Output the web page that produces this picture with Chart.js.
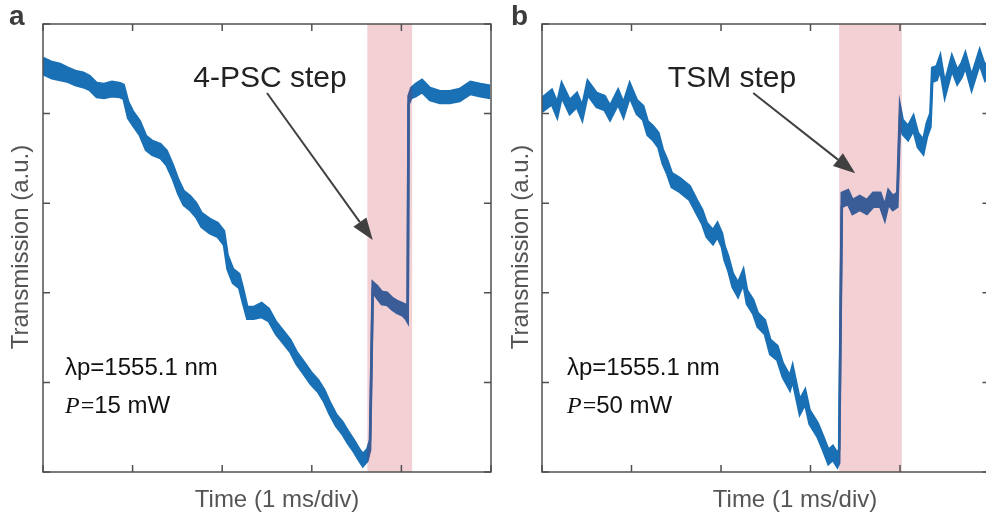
<!DOCTYPE html>
<html><head><meta charset="utf-8">
<script src="https://cdn.jsdelivr.net/npm/chart.js@4"></script>
<style>
html,body{margin:0;padding:0;width:986px;height:519px;overflow:hidden;background:#fff;}
.wrap{position:absolute;top:0;height:519px;}
#wa{left:0;width:495px;}
#wb{left:495px;width:500px;}
</style></head><body>
<div class="wrap" id="wa"><canvas id="ca" width="495" height="519"></canvas></div>
<div class="wrap" id="wb"><canvas id="cb" width="500" height="519"></canvas></div>
<script>
// ---------- data (time in ms, transmission in a.u. 0-100) ----------
const timeA = [0,0.10,0.19,0.28,0.36,0.45,0.52,0.60,0.68,0.77,0.86,0.90,0.95,1.00,1.08,1.15,1.22,1.31,1.38,1.45,1.51,1.57,1.64,1.71,1.77,1.86,1.95,2.02,2.06,2.12,2.19,2.23,2.28,2.35,2.44,2.52,2.60,2.68,2.76,2.83,2.91,2.99,3.07,3.14,3.20,3.27,3.34,3.40,3.47,3.53,3.57,3.62,3.65,3.68,3.73,3.78,3.84,3.90,3.95,4.01,4.05,4.07,4.08,4.11,4.16,4.23,4.32,4.43,4.54,4.65,4.77,4.88,4.99];
const upperA = [92.4,91.5,91.1,90.2,89.5,89.1,88.4,86.8,86.6,87.1,86.8,86.4,82.6,80.6,78.3,75.0,73.9,73.2,71.7,68.5,65.2,62.7,61.6,60.0,57.8,56.5,55.6,53.8,48.4,45.3,44.2,41.1,36.8,36.8,37.7,36.4,33.5,31.5,29.5,26.8,24.6,22.3,20.5,18.3,15.6,12.9,11.2,9.2,7.1,5.1,4.0,5.1,7.1,42.4,41.5,40.2,40.0,38.8,38.2,37.7,37.3,35.3,83.9,85.7,86.6,87.5,85.7,85.0,85.0,85.5,87.1,86.6,86.2];
const lowerA = [88.8,87.9,87.5,87.1,86.4,85.9,85.3,83.7,83.5,83.9,83.7,83.3,79.0,77.5,75.2,71.9,70.8,70.1,68.5,65.4,62.1,59.6,58.5,56.9,54.7,53.3,52.5,50.7,45.3,42.2,41.1,37.9,34.2,34.2,34.6,33.7,30.8,28.8,26.8,24.1,21.9,19.6,17.9,15.6,12.9,10.3,8.5,6.5,4.5,2.5,1.3,2.5,4.9,40.2,38.8,37.5,37.3,36.2,35.5,35.0,34.2,33.5,82.1,83.5,83.9,84.8,83.0,82.4,82.4,82.8,84.4,83.9,83.5];

const timeB = [0,0.11,0.17,0.22,0.31,0.39,0.45,0.51,0.61,0.70,0.76,0.85,0.91,0.98,1.06,1.13,1.18,1.24,1.30,1.35,1.40,1.45,1.54,1.65,1.73,1.79,1.84,1.91,1.96,2.01,2.04,2.08,2.13,2.19,2.25,2.29,2.36,2.41,2.49,2.55,2.63,2.69,2.77,2.80,2.88,2.94,2.99,3.08,3.14,3.20,3.25,3.30,3.32,3.35,3.42,3.47,3.55,3.63,3.70,3.78,3.83,3.87,3.92,3.97,4.00,4.03,4.09,4.15,4.20,4.26,4.30,4.34,4.36,4.41,4.45,4.50,4.58,4.64,4.69,4.73,4.80,4.89,4.95,5.00];
const upperB = [83.5,85.3,82.4,86.8,83.0,84.6,81.7,87.3,84.6,83.9,81.7,85.3,82.4,86.8,83.0,81.7,78.3,77.2,75.7,71.9,69.6,66.7,65.6,63.8,60.7,58.5,55.6,54.0,55.6,53.3,50.4,48.2,44.4,42.2,45.1,40.6,38.4,35.5,33.9,29.5,28.1,24.3,21.4,23.7,16.1,18.3,13.8,10.9,8.0,4.9,5.8,4.2,5.0,62.3,62.9,60.7,61.6,60.7,62.3,62.3,59.4,62.9,61.6,62.3,81.7,78.6,77.2,79.5,75.7,74.1,77.9,80.1,90.2,90.6,92.9,86.8,92.9,89.7,91.3,93.5,88.4,94.2,90.6,92.4];
const lowerB = [80.4,82.1,79.2,83.7,79.9,81.5,78.6,84.2,81.5,80.8,78.6,82.1,79.2,83.7,79.9,78.6,75.2,74.1,72.5,68.8,66.5,63.6,62.5,60.7,57.6,55.4,52.5,50.9,52.5,50.2,47.3,45.1,41.3,39.1,42.0,37.5,35.3,32.4,30.8,26.3,25.0,21.2,18.3,20.5,12.9,15.2,10.7,7.8,4.9,1.8,2.7,1.1,2.0,59.2,59.8,57.6,58.5,57.6,59.2,59.2,56.3,59.8,58.5,59.2,78.6,75.4,74.1,76.3,72.5,71.0,74.8,77.0,87.1,87.5,89.7,83.7,89.7,86.6,88.2,90.4,85.3,91.1,87.5,89.3];

const xTicks = [0,1,2,3,4,5];
const yTicks = [0,20,40,60,80,100];
const stepBandA = [3.62, 4.12];
const stepBandB = [3.32, 4.02];
const stepLabelA = '4-PSC step';
const stepLabelB = 'TSM step';
const pumpPowerA = '15 mW';
const pumpPowerB = '50 mW';
const wavelengthLabel = '\u03bbp=1555.1 nm';
const xTitle = 'Time (1 ms/div)';
const yTitle = 'Transmission (a.u.)';

// ---------- style ----------
const TRACE = '#1a70b5';
const SANS = '"Liberation Sans", Arial, sans-serif';
const SERIF = '"Liberation Serif", "Times New Roman", serif';

function band(time, up, lo) {
  return [
    {data: time.map((t,i)=>({x:t,y:up[i]})), borderColor: TRACE, borderWidth: 2.6, pointRadius: 0, fill: false, tension: 0},
    {data: time.map((t,i)=>({x:t,y:lo[i]})), borderColor: TRACE, backgroundColor: TRACE, borderWidth: 2.6, pointRadius: 0, fill: '-1', tension: 0}
  ];
}

const decoPlugin = {
  id: 'deco',
  afterDatasetsDraw(chart, args, o) {
    const {ctx, chartArea: ca} = chart;
    const x = chart.scales.x, y = chart.scales.y;
    const off = o.offset;
    ctx.save();
    // shaded step region (drawn over trace, semi-transparent)
    const b0 = x.getPixelForValue(o.band[0]), b1 = x.getPixelForValue(o.band[1]);
    ctx.fillStyle = 'rgba(190,20,40,0.2)';
    ctx.fillRect(b0, ca.top, b1 - b0, ca.bottom - ca.top);
    // box
    ctx.strokeStyle = '#505050';
    ctx.lineWidth = 1.5;
    ctx.strokeRect(ca.left, ca.top, ca.right - ca.left, ca.bottom - ca.top);
    // inward ticks
    const tl = 7;
    ctx.beginPath();
    for (const v of xTicks) {
      const px = x.getPixelForValue(v);
      ctx.moveTo(px, ca.bottom); ctx.lineTo(px, ca.bottom - tl);
      ctx.moveTo(px, ca.top); ctx.lineTo(px, ca.top + tl);
    }
    for (const v of yTicks) {
      const py = y.getPixelForValue(v);
      ctx.moveTo(ca.left, py); ctx.lineTo(ca.left + tl, py);
      ctx.moveTo(ca.right, py); ctx.lineTo(ca.right - tl, py);
    }
    ctx.stroke();
    // arrow
    const ax0 = x.getPixelForValue(o.arrow.from[0]), ay0 = y.getPixelForValue(o.arrow.from[1]);
    const ax1 = x.getPixelForValue(o.arrow.to[0]), ay1 = y.getPixelForValue(o.arrow.to[1]);
    const ang = Math.atan2(ay1 - ay0, ax1 - ax0);
    const hl = 22, hw = 8;
    const bx = ax1 - hl * Math.cos(ang), by = ay1 - hl * Math.sin(ang);
    ctx.strokeStyle = '#404040'; ctx.fillStyle = '#404040'; ctx.lineWidth = 2;
    ctx.beginPath(); ctx.moveTo(ax0, ay0); ctx.lineTo(bx, by); ctx.stroke();
    ctx.beginPath();
    ctx.moveTo(ax1, ay1);
    ctx.lineTo(bx + hw * Math.sin(ang), by - hw * Math.cos(ang));
    ctx.lineTo(bx - hw * Math.sin(ang), by + hw * Math.cos(ang));
    ctx.closePath(); ctx.fill();
    // step label
    ctx.fillStyle = '#222';
    ctx.font = '30px ' + SANS;
    ctx.textAlign = 'center'; ctx.textBaseline = 'alphabetic';
    ctx.fillText(o.stepLabel, o.stepPos[0] - off, o.stepPos[1]);
    // parameters
    ctx.textAlign = 'left';
    ctx.fillStyle = '#111';
    ctx.font = '24px ' + SANS;
    ctx.fillText(wavelengthLabel, o.paramX - off, 375);
    let px = o.paramX - off;
    ctx.font = 'italic 24px ' + SERIF;
    ctx.fillText('P', px, 413); px += ctx.measureText('P').width + 1;
    ctx.font = '24px ' + SERIF;
    ctx.fillText('=', px, 413); px += ctx.measureText('=').width;
    ctx.font = '24px ' + SANS;
    ctx.fillText(o.power, px, 413);
    // axis titles
    ctx.fillStyle = '#555';
    ctx.font = '24px ' + SANS;
    ctx.textAlign = 'center';
    ctx.fillText(xTitle, o.xTitleX - off, 507);
    ctx.save();
    ctx.translate(o.yTitleX - off, 247);
    ctx.rotate(-Math.PI / 2);
    ctx.fillText(yTitle, 0, 0);
    ctx.restore();
    // panel letter
    ctx.fillStyle = '#3c3c3c';
    ctx.font = 'bold 28px ' + SANS;
    ctx.textAlign = 'left';
    ctx.fillText(o.letter, o.letterX - off, 25);
    ctx.restore();
  }
};

function makeChart(id, time, up, lo, padding, deco) {
  return new Chart(document.getElementById(id), {
    type: 'line',
    data: {datasets: band(time, up, lo)},
    options: {
      responsive: false, animation: false, devicePixelRatio: 1,
      layout: {padding: padding},
      plugins: {legend: {display: false}, tooltip: {enabled: false}, deco: deco},
      scales: {
        x: {type: 'linear', min: 0, max: 5, display: false},
        y: {type: 'linear', min: 0, max: 100, display: false}
      }
    },
    plugins: [decoPlugin]
  });
}

makeChart('ca', timeA, upperA, lowerA, {left: 43, right: 4, top: 24, bottom: 47}, {
  offset: 0, band: stepBandA, arrow: {from: [2.50, 84.6], to: [3.68, 51.8]},
  stepLabel: stepLabelA, stepPos: [270, 87], paramX: 65, power: pumpPowerA,
  xTitleX: 277, yTitleX: 28, letter: 'a', letterX: 9
});
makeChart('cb', timeB, upperB, lowerB, {left: 47, right: 5.5, top: 24, bottom: 47}, {
  offset: 495, band: stepBandB, arrow: {from: [2.36, 84.6], to: [3.50, 66.7]},
  stepLabel: stepLabelB, stepPos: [732, 87], paramX: 567, power: pumpPowerB,
  xTitleX: 795, yTitleX: 528, letter: 'b', letterX: 511
});
</script>
</body></html>
